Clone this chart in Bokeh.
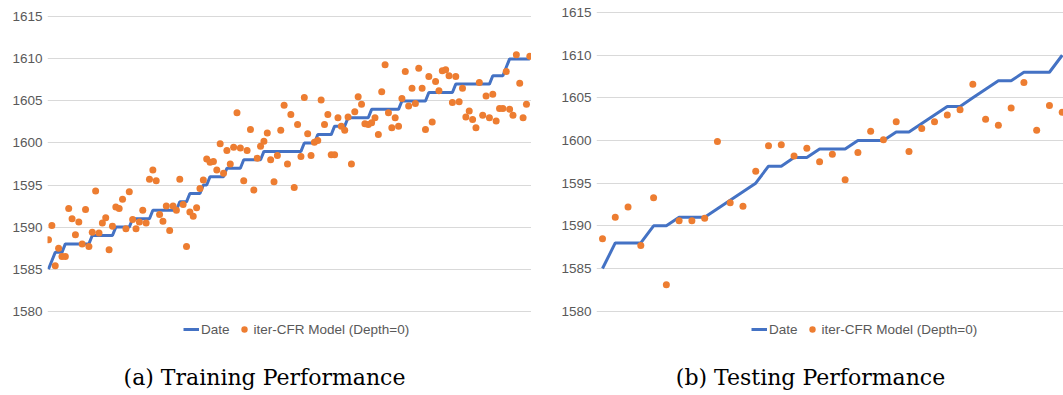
from bokeh.plotting import figure
from bokeh.models import Range1d, FixedTicker, Legend, LegendItem, Label
from bokeh.layouts import row
from bokeh.embed import file_html
from bokeh.resources import INLINE

# ---------------- data ----------------
y_ticks = [1580, 1585, 1590, 1595, 1600, 1605, 1610, 1615]

train_date = (
    [1585, 1586] + [1587] * 3 + [1588] * 8 + [1589] * 7 + [1590] * 5 + [1591] * 6
    + [1592] * 8 + [1593] * 3 + [1594] * 4 + [1595] * 2 + [1596] * 5 + [1597] * 5
    + [1598] * 6 + [1599] * 12 + [1600] * 4 + [1601] * 5 + [1602] * 4 + [1603] * 7
    + [1604] * 9 + [1605] * 8 + [1606] * 8 + [1607] * 11 + [1608] * 4 + [1609]
    + [1610] * 7
)

train_model = [
    1588.5, 1590.2, 1585.4, 1587.5, 1586.5, 1586.5, 1592.2, 1591.0, 1589.1, 1590.6,
    1588.0, 1592.1, 1587.7, 1589.4, 1594.3, 1589.3, 1590.5, 1591.1, 1587.3, 1590.1,
    1592.4, 1592.2, 1593.3, 1589.8, 1594.2, 1590.9, 1589.8, 1590.6, 1592.0, 1590.5,
    1595.7, 1596.8, 1595.5, 1591.5, 1590.7, 1592.5, 1589.6, 1592.5, 1592.0, 1595.7,
    1592.7, 1587.7, 1591.8, 1591.3, 1592.3, 1594.6, 1595.6, 1598.1, 1597.7, 1597.8,
    1596.8, 1599.9, 1596.4, 1599.1, 1597.5, 1599.5, 1603.6, 1599.4, 1595.5, 1599.1,
    1601.6, 1594.4, 1598.2, 1599.6, 1600.2, 1601.2, 1598.0, 1595.4, 1598.5, 1601.5,
    1604.5, 1597.5, 1603.4, 1594.7, 1602.2, 1598.4, 1605.4, 1601.1, 1598.5, 1600.1,
    1600.3, 1605.1, 1602.2, 1603.4, 1598.6, 1598.6, 1603.0, 1602.0, 1601.5, 1603.1,
    1597.5, 1603.7, 1605.5, 1604.6, 1602.3, 1602.2, 1602.4, 1603.0, 1601.0, 1606.1,
    1609.3, 1603.6, 1601.8, 1603.0, 1602.0, 1605.3, 1608.5, 1604.4, 1606.5, 1604.7,
    1608.9, 1606.5, 1601.6, 1607.9, 1602.5, 1607.3, 1606.2, 1608.6, 1608.7, 1608.0,
    1604.8, 1607.9, 1604.9, 1606.5, 1603.1, 1603.8, 1602.8, 1601.8, 1607.2, 1603.3,
    1605.6, 1603.0, 1605.8, 1602.6, 1604.1, 1604.1, 1608.5, 1604.0, 1603.3, 1610.5,
    1607.1, 1603.0, 1604.6, 1610.3,
]

test_date = [
    1585, 1588, 1588, 1588, 1590, 1590, 1591, 1591, 1591, 1592, 1593, 1594, 1595,
    1597, 1597, 1598, 1598, 1599, 1599, 1599, 1600, 1600, 1600, 1601, 1601, 1602,
    1603, 1604, 1604, 1605, 1606, 1607, 1607, 1608, 1608, 1608, 1610,
]

test_model = [
    1588.5, 1591.0, 1592.2, 1587.7, 1593.3, 1583.1, 1590.6, 1590.6, 1590.9, 1599.9,
    1592.7, 1592.3, 1596.4, 1599.4, 1599.5, 1598.2, 1599.1, 1597.5, 1598.4, 1595.4,
    1598.6, 1601.1, 1600.1, 1602.2, 1598.7, 1601.4, 1602.2, 1603.0, 1603.6, 1606.6,
    1602.5, 1601.8, 1603.8, 1606.8, 1601.2, 1604.1, 1603.3,
]

series_names = ["Date", "iter-CFR Model (Depth=0)"]
captions = ["(a) Training Performance", "(b) Testing Performance"]

BLUE = "#4472C4"
ORANGE = "#ED7D31"
GRAY = "#595959"
GRID = "#D9D9D9"


def make_panel(date, model, width, b_left, x0, x1, y0, y1,
               legend_x, caption, caption_x):
    idx = list(range(len(date)))
    p = figure(width=width, height=395, output_backend="svg",
               toolbar_location=None,
               x_range=Range1d(x0, x1), y_range=Range1d(y0, y1),
               min_border_left=b_left, min_border_right=0,
               min_border_top=0, min_border_bottom=0)
    p.outline_line_color = None
    p.background_fill_color = "white"
    p.border_fill_color = "white"
    p.xaxis.visible = False
    p.xgrid.visible = False
    p.yaxis.ticker = FixedTicker(ticks=y_ticks)
    p.yaxis.axis_line_color = None
    p.yaxis.major_tick_line_color = None
    p.yaxis.minor_tick_line_color = None
    p.yaxis.major_tick_out = 0
    p.yaxis.major_tick_in = 0
    p.yaxis.minor_tick_out = 0
    p.yaxis.major_label_standoff = 5
    p.yaxis.major_label_text_font = "Liberation Sans"
    p.yaxis.major_label_text_font_size = "13.5px"
    p.yaxis.major_label_text_color = GRAY
    p.ygrid.grid_line_color = GRID
    p.ygrid.grid_line_width = 1

    r_line = p.line(idx, date, line_color=BLUE, line_width=3)
    r_dot = p.scatter(idx, model, size=7, fill_color=ORANGE, line_color=None)

    legend = Legend(
        items=[LegendItem(label=series_names[0], renderers=[r_line]),
               LegendItem(label=series_names[1], renderers=[r_dot])],
        orientation="horizontal", location=(legend_x, 58),
        padding=0, margin=0, spacing=6, glyph_width=16, glyph_height=16,
        label_height=16, label_standoff=2,
        label_text_font="Liberation Sans", label_text_font_size="13.5px",
        label_text_color=GRAY, background_fill_alpha=0,
        border_line_color=None,
    )
    p.add_layout(legend)

    p.add_layout(Label(x=caption_x, y=18, x_units="screen", y_units="screen",
                       text=caption, text_font="DejaVu Serif",
                       text_font_size="22px", text_align="center",
                       text_baseline="middle", text_color="black"))
    return p


p1 = make_panel(train_date, train_model, 531, 47, -0.3, 143.5,
                1569.98, 1616.94, 136, captions[0], 217)
p2 = make_panel(test_date, test_model, 532, 65, -0.47, 36.1,
                1570.12, 1616.41, 155, captions[1], 214)

layout = row(p1, p2)
open("out.html", "w").write(file_html(layout, INLINE))
